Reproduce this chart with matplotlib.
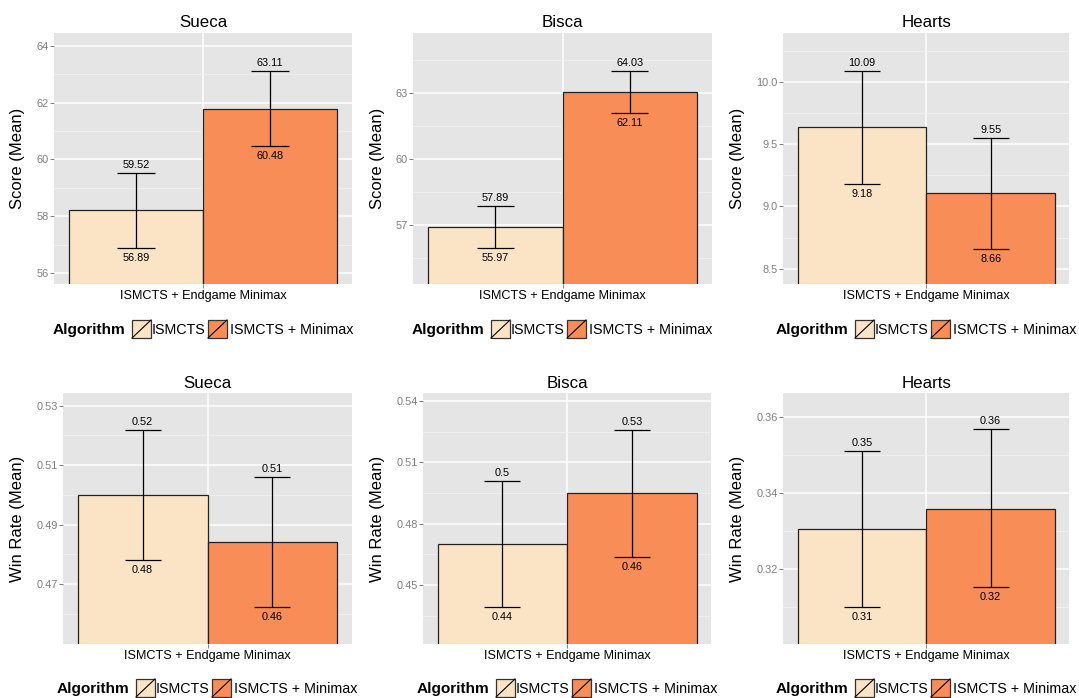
import matplotlib
matplotlib.use("Agg")
import matplotlib.pyplot as plt
from matplotlib.patches import Rectangle
from matplotlib.lines import Line2D
from matplotlib.ticker import FormatStrFormatter
from matplotlib.transforms import blended_transform_factory

plt.rcParams["font.family"] = ["Liberation Sans", "DejaVu Sans"]

# ---------------------------------------------------------------------------
# DATA
# ---------------------------------------------------------------------------
GAMES = ["Sueca", "Bisca", "Hearts"]
ALGORITHMS = ["ISMCTS", "ISMCTS + Minimax"]
X_LABEL = "ISMCTS + Endgame Minimax"

SCORE_MEAN  = [[58.21, 61.79], [56.93, 63.07], [9.635, 9.105]]
SCORE_UPPER = [[59.52, 63.11], [57.89, 64.03], [10.09, 9.55]]
SCORE_LOWER = [[56.89, 60.48], [55.97, 62.11], [9.18, 8.66]]

WIN_MEAN  = [[0.500, 0.4841], [0.470, 0.4948], [0.3305, 0.3359]]
WIN_UPPER = [[0.5218, 0.506], [0.5008, 0.5259], [0.3511, 0.3567]]
WIN_LOWER = [[0.4781, 0.4622], [0.4391, 0.4638], [0.3099, 0.3153]]

SCORE_TICKS = [[56, 58, 60, 62, 64], [57, 60, 63], [8.5, 9.0, 9.5, 10.0]]
WIN_TICKS = [[0.47, 0.49, 0.51, 0.53], [0.45, 0.48, 0.51, 0.54], [0.32, 0.34, 0.36]]

# ---------------------------------------------------------------------------
# STYLE / LAYOUT (pixels of a 1079x698 canvas)
# ---------------------------------------------------------------------------
W, H = 1079, 698
FILLS = ["#FBE4C6", "#F88D58"]
PANEL_BG = "#E5E5E5"
GREY = "#7F7F7F"

SCORE_YLIM = [(55.62, 64.45), (54.33, 65.74), (8.377, 10.394)]
WIN_YLIM = [(0.4497, 0.5342), (0.4209, 0.5439), (0.3002, 0.3662)]
SCORE_FMT = ["%d", "%d", "%.1f"]

AX_TOP = [33, 393.3]
AX_H = 251
AX_LEFT = [[54, 413.3, 783.3], [63.3, 423.3, 783.3]]
AX_RIGHT = [[352, 711.7, 1069.3], [351.7, 711, 1069.3]]
YLABEL_X = [25, 385, 745]      # right edge of the rotated y label
LEGEND_X = [[53, 412, 776], [57, 417, 776]]
LEGEND_BASE = [334.3, 693.3]

BAR_W = 0.45
CAP = 0.0625


def label(v):
    return f"{round(v, 2):g}"


def draw_panel(fig, row, col, title, mean, upper, lower, ylim, ticks, fmt, ylabel):
    l, r = AX_LEFT[row][col], AX_RIGHT[row][col]
    top = AX_TOP[row]
    ax = fig.add_axes([l / W, 1 - (top + AX_H) / H, (r - l) / W, AX_H / H])
    ax.set_facecolor(PANEL_BG)
    for s in ax.spines.values():
        s.set_visible(False)
    ax.set_axisbelow(True)

    xs = [-BAR_W / 2, BAR_W / 2]
    ax.bar(xs, mean, width=BAR_W, color=FILLS, edgecolor="#222222", linewidth=0.9, zorder=2)
    ax.vlines(xs, lower, upper, color="black", lw=0.9, zorder=3)
    ax.hlines(upper, [x - CAP for x in xs], [x + CAP for x in xs], color="black", lw=0.9, zorder=3)
    ax.hlines(lower, [x - CAP for x in xs], [x + CAP for x in xs], color="black", lw=0.9, zorder=3)
    for x, u, lo in zip(xs, upper, lower):
        ax.annotate(label(u), (x, u), xytext=(0, 3.6), textcoords="offset points",
                    ha="center", va="baseline", fontsize=7.8, zorder=4)
        ax.annotate(label(lo), (x, lo), xytext=(0, -9.3), textcoords="offset points",
                    ha="center", va="baseline", fontsize=7.8, zorder=4)

    ax.set_xlim(-0.5, 0.5)
    ax.set_ylim(*ylim)
    ax.set_xticks([0])
    ax.set_xticklabels([X_LABEL], fontsize=9.1, color="black")
    ax.set_yticks(ticks)
    step = ticks[1] - ticks[0]
    minors = [t - step / 2 for t in ticks] + [ticks[-1] + step / 2]
    ax.set_yticks([m for m in minors if ylim[0] < m < ylim[1]], minor=True)
    ax.yaxis.set_major_formatter(FormatStrFormatter(fmt))
    ax.tick_params(axis="y", which="major", labelsize=7.9, labelcolor=GREY, color=GREY,
                   length=2.9, width=0.7, pad=1)
    ax.tick_params(axis="x", which="major", color=GREY, length=2.9, width=0.7, pad=1.5)
    ax.tick_params(which="minor", length=0)
    ax.grid(which="major", color="white", lw=1.1)
    ax.grid(which="minor", axis="y", color="#F2F2F2", lw=0.6)

    ax.set_title(title, fontsize=12.2, pad=4)
    ax.set_ylabel(ylabel, fontsize=12)
    ax.yaxis.set_label_coords(YLABEL_X[col] / W, 0.5,
                              transform=blended_transform_factory(fig.transFigure, ax.transAxes))
    return ax


def draw_legend(fig, x0, base):
    fy = lambda y: 1 - y / H
    fig.text(x0 / W, fy(base), "Algorithm", fontweight="bold", fontsize=11.1,
             ha="left", va="baseline")
    kc = base - 5.3
    for off_key, off_text, name, fill in zip([79, 155], [99, 177], ALGORITHMS, FILLS):
        kx = x0 + off_key
        fig.add_artist(Rectangle((kx / W, fy(kc + 9)), 19 / W, 18 / H, transform=fig.transFigure,
                                 facecolor=fill, edgecolor="#333333", lw=0.9))
        fig.add_artist(Line2D([kx / W, (kx + 19) / W], [fy(kc + 9), fy(kc - 9)],
                              transform=fig.transFigure, color="black", lw=0.8))
        fig.text((x0 + off_text) / W, fy(base), name, fontsize=10.3, ha="left", va="baseline")


fig = plt.figure(figsize=(W / 100, H / 100), dpi=100)
fig.patch.set_facecolor("white")

for col, game in enumerate(GAMES):
    draw_panel(fig, 0, col, game, SCORE_MEAN[col], SCORE_UPPER[col], SCORE_LOWER[col],
               SCORE_YLIM[col], SCORE_TICKS[col], SCORE_FMT[col], "Score (Mean)")
    draw_panel(fig, 1, col, game, WIN_MEAN[col], WIN_UPPER[col], WIN_LOWER[col],
               WIN_YLIM[col], WIN_TICKS[col], "%.2f", "Win Rate (Mean)")
    draw_legend(fig, LEGEND_X[0][col], LEGEND_BASE[0])
    draw_legend(fig, LEGEND_X[1][col], LEGEND_BASE[1])

fig.savefig("out.png", dpi=100, facecolor="white")
